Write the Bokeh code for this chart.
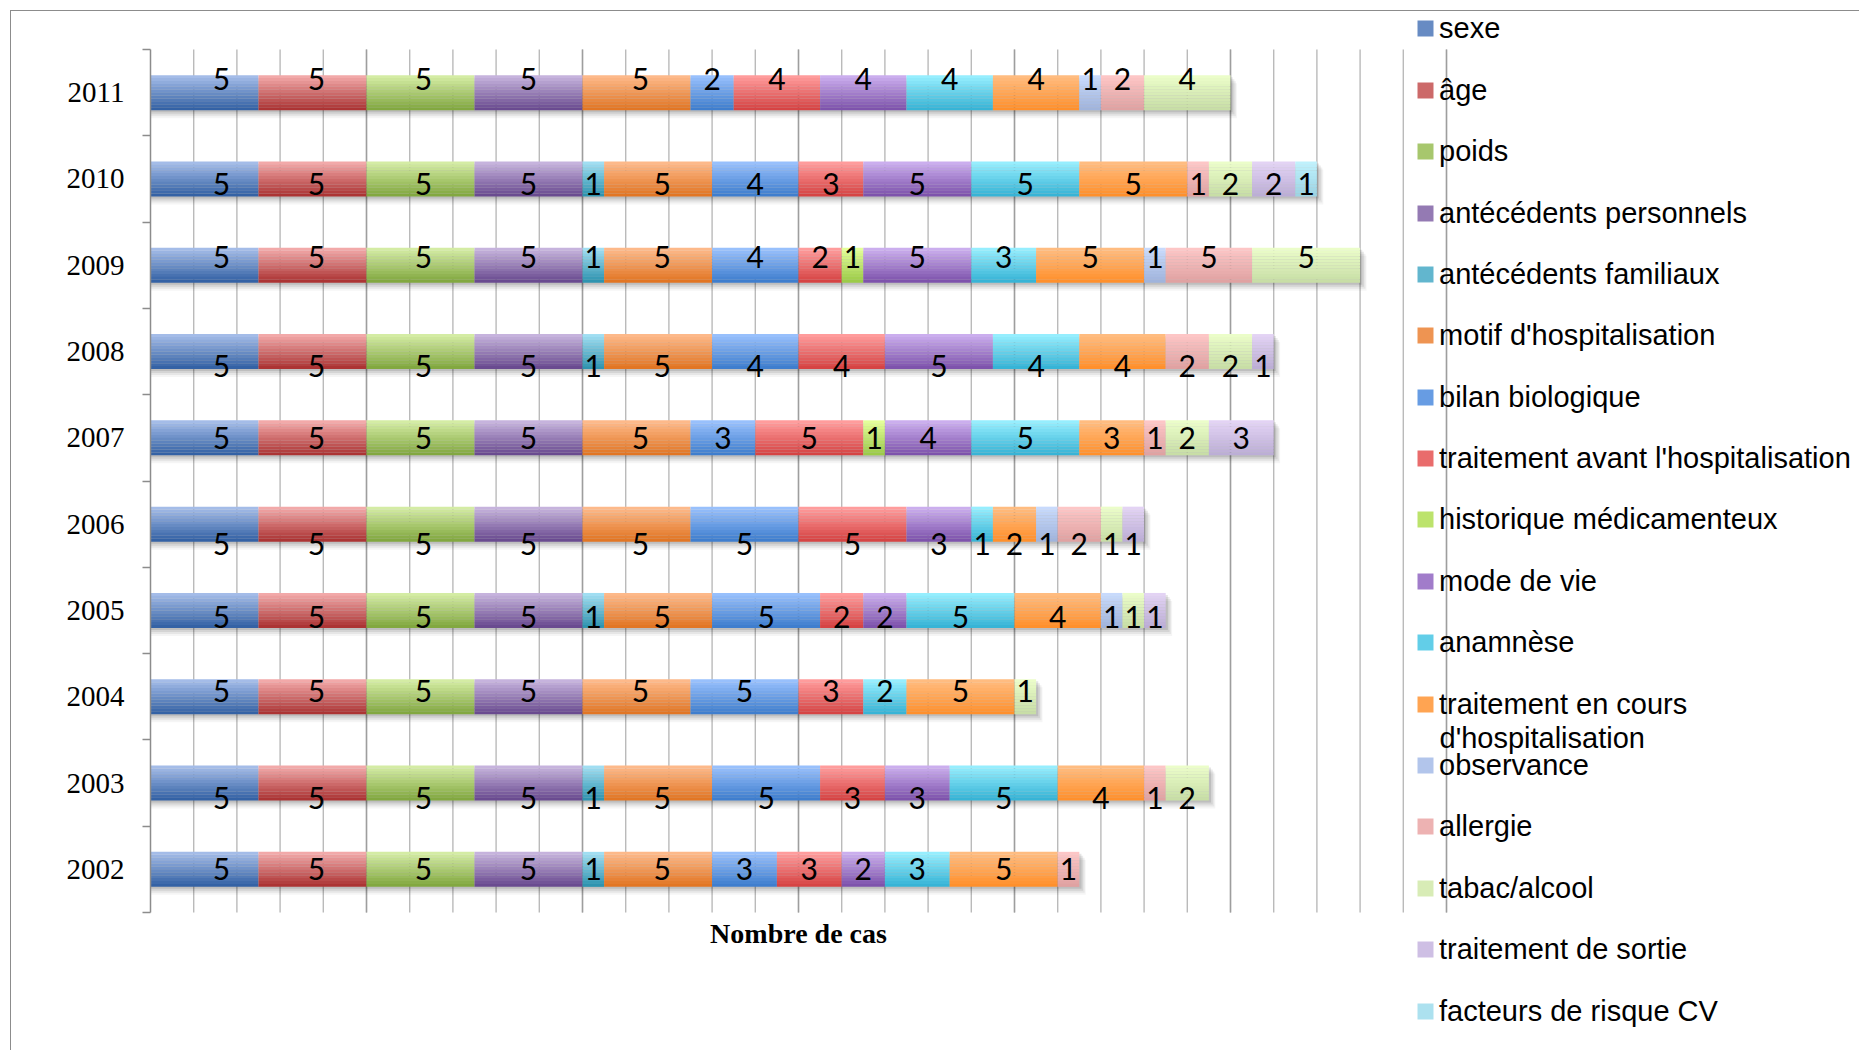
from bokeh.plotting import figure
from bokeh.models import (ColumnDataSource, Range1d, FixedTicker, Legend,
                          LegendItem, Label)
from bokeh.embed import file_html
from bokeh.resources import INLINE
from bokeh.core.properties import value
from bokeh.transform import dodge

# ---------------- data ----------------
years = ["2002", "2003", "2004", "2005", "2006", "2007", "2008", "2009", "2010", "2011"]

series_names = ["sexe", "âge", "poids", "antécédents personnels", "antécédents familiaux",
                "motif d'hospitalisation", "bilan biologique",
                "traitement avant l'hospitalisation", "historique médicamenteux",
                "mode de vie", "anamnèse", "traitement en cours", "observance",
                "allergie", "tabac/alcool", "traitement de sortie", "facteurs de risque CV"]

sexe        = [5, 5, 5, 5, 5, 5, 5, 5, 5, 5]
age         = [5, 5, 5, 5, 5, 5, 5, 5, 5, 5]
poids       = [5, 5, 5, 5, 5, 5, 5, 5, 5, 5]
ant_pers    = [5, 5, 5, 5, 5, 5, 5, 5, 5, 5]
ant_fam     = [1, 1, 0, 1, 0, 0, 1, 1, 1, 0]
motif       = [5, 5, 5, 5, 5, 5, 5, 5, 5, 5]
bilan       = [3, 5, 5, 5, 5, 3, 4, 4, 4, 2]
trait_avant = [3, 3, 3, 2, 5, 5, 4, 2, 3, 4]
historique  = [0, 0, 0, 0, 0, 1, 0, 1, 0, 0]
mode_vie    = [2, 3, 0, 2, 3, 4, 5, 5, 5, 4]
anamnese    = [3, 5, 2, 5, 1, 5, 4, 3, 5, 4]
trait_cours = [5, 4, 5, 4, 2, 3, 4, 5, 5, 4]
observance  = [0, 0, 0, 1, 1, 0, 0, 1, 0, 1]
allergie    = [1, 1, 0, 0, 2, 1, 2, 4, 1, 2]
tabac       = [0, 2, 1, 1, 1, 2, 2, 5, 2, 4]
sortie      = [0, 0, 0, 1, 1, 3, 1, 0, 2, 0]
facteurs_cv = [0, 0, 0, 0, 0, 0, 0, 0, 1, 0]

series_values = [sexe, age, poids, ant_pers, ant_fam, motif, bilan, trait_avant,
                 historique, mode_vie, anamnese, trait_cours, observance, allergie,
                 tabac, sortie, facteurs_cv]

# data label shown in the original differs from the drawn width here
label_fix = {("2009", "allergie"): "5"}

x_axis_title = "Nombre de cas"
legend_wrap = "d'hospitalisation"

# ---------------- styles ----------------
top_colors = ["#A4BCE8", "#F2A9A9", "#D4ECA4", "#C6B3DD", "#A0DEF2", "#FDB98A",
              "#98C0FC", "#FF9C9C", "#E3FF98", "#CBAEEE", "#96EEFE", "#FFBC80",
              "#C8DAFC", "#FDC6C6", "#EBFDC9", "#E3D3F4", "#BFF1FC"]
bottom_colors = ["#3462A5", "#AC3434", "#82A840", "#6A4B90", "#2F94B0", "#E27624",
                 "#3F7ECE", "#D64444", "#9CCB48", "#7E53AC", "#37B4D6", "#FF902C",
                 "#A0B4DC", "#E0A2A2", "#C8DEA6", "#BCAED6", "#9CD4E4"]
label_dy_px = [0, 15, -6, 7, 20, 0, 14, -8, 5, -14]   # per-year label offset (px, down +)
label_dx_px = [17, 4, 3, 0, 0, 4, 0, 0, 0, 0, 0, 0, 0, 0, 0, 0, 0]  # per-series (px, right +)

grid_minor = list(range(2, 61, 2))
grid_major = list(range(10, 61, 10))
X_MAX = 60

NB = 12
BAR_H = 0.405
W, H = 1849, 1040
ORIG_X, ORIG_Y = 11, 11              # canvas origin on the page
AX_X, AX_TOP, AX_BOT = 150, 49, 912  # plot area on the page
PX_PER_UNIT = 21.6
PX_PER_CAT = (AX_BOT - AX_TOP) / 10.0
ML = AX_X - ORIG_X
x_end = (W - ML) / PX_PER_UNIT
y_end = 9.5 + (AX_TOP - ORIG_Y) / PX_PER_CAT
y_start = -0.5 - (ORIG_Y + H - AX_BOT) / PX_PER_CAT
LEG_X, LEG_Y0, LEG_STEP = 1265, 28.3, 61.4   # legend placement on the page


def hex2rgb(h):
    h = h.lstrip("#")
    return [int(h[i:i + 2], 16) for i in (0, 2, 4)]


def mix(c1, c2, t):
    a, b = hex2rgb(c1), hex2rgb(c2)
    return "#%02x%02x%02x" % tuple(int(round(a[i] * (1 - t) + b[i] * t)) for i in range(3))


# ---------------- sources ----------------
seg = {"y": [], "left": [], "right": [], "lx": [], "ly": [], "label": [], "sid": []}
for k in range(NB):
    seg["c%d" % k] = []
first_row = {}
for yi, yr in enumerate(years):
    acc = 0
    for si, vals in enumerate(series_values):
        v = vals[yi]
        if v <= 0:
            continue
        if si not in first_row:
            first_row[si] = len(seg["y"])
        seg["y"].append(yi)
        seg["left"].append(acc)
        seg["right"].append(acc + v)
        seg["lx"].append(acc + v / 2.0 + label_dx_px[si] / PX_PER_UNIT)
        seg["ly"].append(yi - label_dy_px[yi] / PX_PER_CAT)
        seg["label"].append(label_fix.get((yr, series_names[si]), str(v)))
        seg["sid"].append(si)
        for k in range(NB):
            seg["c%d" % k].append(mix(top_colors[si], bottom_colors[si], k / (NB - 1)))
        acc += v
src = ColumnDataSource(seg)

totals = [sum(vals[yi] for vals in series_values) for yi in range(len(years))]
tot_src = ColumnDataSource({"y": list(range(len(years))), "total": totals})

# ---------------- figure ----------------
p = figure(width=W, height=H, output_backend="svg", toolbar_location=None,
           x_range=Range1d(0, x_end), y_range=Range1d(y_start, y_end),
           x_axis_location=None,
           min_border_left=ML, min_border_right=0, min_border_top=0,
           min_border_bottom=0, background_fill_color="white",
           border_fill_color="white")
p.outline_line_color = None
p.grid.visible = False
p.styles = {"margin-left": "10px", "margin-top": "10px",
            "border-left": "1px solid #8c8c8c", "border-top": "1px solid #8c8c8c"}

# vertical grid lines, limited to the plot area
p.segment(x0=grid_minor, x1=grid_minor, y0=-0.5, y1=9.5, line_color="#bababa",
          line_width=1.4)
p.segment(x0=grid_major, x1=grid_major, y0=-0.5, y1=9.5, line_color="#9e9e9e",
          line_width=1.4)

# y axis
p.yaxis.bounds = (-0.5, 9.5)
p.yaxis.ticker = FixedTicker(ticks=list(range(len(years))),
                             minor_ticks=[i - 0.5 for i in range(len(years) + 1)])
p.yaxis.major_label_overrides = {i: y for i, y in enumerate(years)}
p.yaxis.major_label_text_font = "Liberation Serif"
p.yaxis.major_label_text_font_size = "29px"
p.yaxis.major_label_text_color = "black"
p.yaxis.major_tick_line_color = None
p.yaxis.major_tick_out = 0
p.yaxis.major_tick_in = 0
p.yaxis.major_label_standoff = 18
p.yaxis.minor_tick_out = 8
p.yaxis.minor_tick_in = 0
p.yaxis.minor_tick_line_color = "#8c8c8c"
p.yaxis.minor_tick_line_width = 1.5
p.yaxis.axis_line_color = "#8c8c8c"
p.yaxis.axis_line_width = 1.5

# shadows
for dy_px, dx, alpha in [(2, 0.10, 0.10), (4, 0.18, 0.08), (6, 0.25, 0.06), (8, 0.3, 0.04)]:
    p.hbar(y=dodge("y", -dy_px / PX_PER_CAT), left=0, right=dodge("total", dx),
           height=BAR_H, source=tot_src, fill_color="black", fill_alpha=alpha,
           line_color=None)

# gradient bars
band_h = BAR_H / NB
band_renderers = []
for k in range(NB):
    off = BAR_H / 2 - (k + 0.5) * band_h
    r = p.hbar(y=dodge("y", off), left="left", right="right", height=band_h * 1.02,
               source=src, fill_color="c%d" % k, line_color=None)
    band_renderers.append(r)

# data labels
p.text(x="lx", y="ly", text="label", source=src, text_font=value("Lato"),
       text_font_size="30px", text_align="center", text_baseline="middle",
       text_color="black")

# x axis title (centered under the 0..60 scale)
p.add_layout(Label(x=X_MAX / 2, y=-0.5 - 21 / PX_PER_CAT, text=x_axis_title,
                   text_font="Liberation Serif", text_font_style="bold",
                   text_font_size="28px", text_align="center",
                   text_baseline="middle", text_color="black"))

# legend: one entry per series, stacked on a fixed pitch
frame_bottom_page = ORIG_Y + H
mid = band_renderers[NB // 2]
for si, name in enumerate(series_names):
    center = LEG_Y0 + LEG_STEP * si
    leg = Legend(items=[LegendItem(label=name, renderers=[mid], index=first_row[si])],
                 location=(LEG_X, int(round(frame_bottom_page - (center + 20)))),
                 orientation="vertical",
                 label_text_font="Liberation Sans", label_text_font_size="29px",
                 label_text_color="black",
                 glyph_width=20, glyph_height=20, label_height=40, spacing=0,
                 padding=0, margin=0, label_standoff=4, border_line_color=None,
                 background_fill_alpha=0)
    p.add_layout(leg)
p.add_layout(Label(x=1289, y=frame_bottom_page - 737, x_units="screen", y_units="screen",
                   text=legend_wrap, text_font="Liberation Sans",
                   text_font_size="29px", text_baseline="middle", text_color="black"))

open("out.html", "w").write(file_html(p, INLINE))
